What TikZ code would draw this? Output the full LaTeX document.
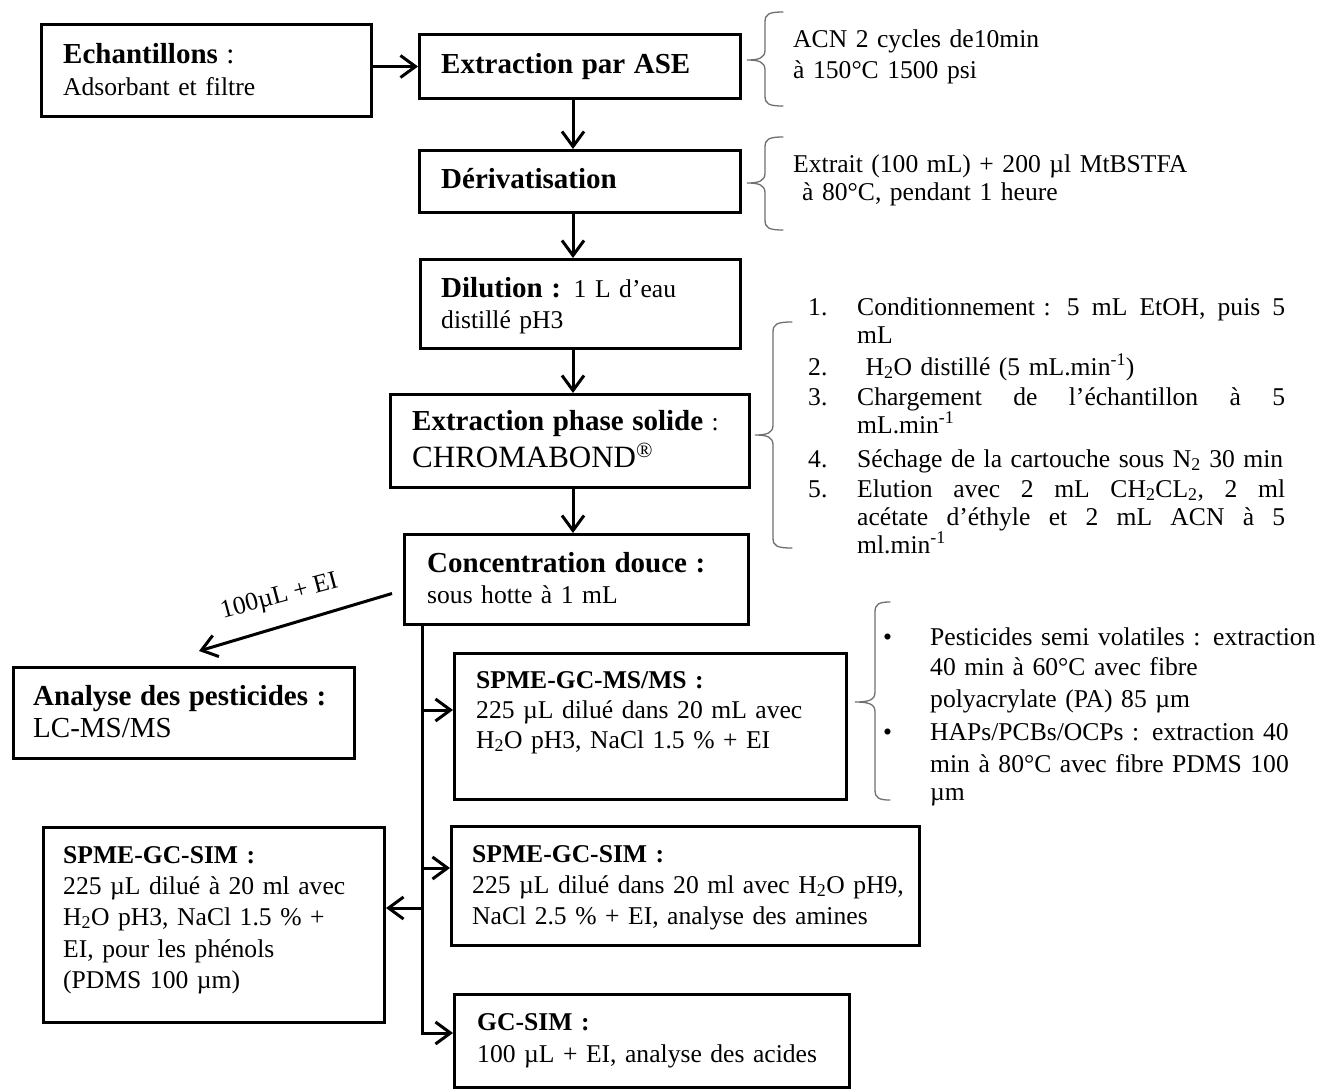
\documentclass[tikz,border=0pt]{standalone}
\usepackage{fontspec}
\setmainfont{Liberation Serif}
\usetikzlibrary{arrows.meta}
\definecolor{bracegray}{HTML}{707070}
\newcommand{\fRg}{\fontsize{25.6}{31}\selectfont}
\newcommand{\fBg}{\fontsize{29}{31}\selectfont\bfseries}
\newcommand{\numitem}[2]{\makebox[49pt][l]{#1}#2}
\newcommand{\bulitem}[1]{\makebox[47pt][l]{\textbullet}#1}
\newcommand{\jline}[1]{\hbox to 428pt{#1}}
\newcommand{\mybrace}[6]{%
  \draw[brc] (#3,#4) .. controls (#2+4,#4) and (#2,#4+2) .. (#2,#4+10)
    -- (#2,#5-10) .. controls (#2,#5-2) and (#2-6,#5) .. (#1,#5)
    .. controls (#2-6,#5) and (#2,#5+2) .. (#2,#5+10)
    -- (#2,#6-10) .. controls (#2,#6-2) and (#2+4,#6) .. (#3,#6);}
\begin{document}
\begin{tikzpicture}[x=1pt,y=-1pt,
  box/.style={draw, line width=3pt, inner sep=0pt, anchor=north west},
  txt/.style={anchor=base west, inner sep=0pt, text width=#1, align=left, font=\fRg},
  arr/.style={line width=3pt, -{Straight Barb[length=15pt,width=22pt]}},
  brc/.style={draw=bracegray, line width=1.3pt, line cap=round}]
\useasboundingbox[fill=white] (0,0) rectangle (1322,1088);

% boxes
\node[box, minimum width=330pt, minimum height=92pt] (ech) at (40,23) {};
\node[box, minimum width=321pt, minimum height=64pt] (ase) at (418,33) {};
\node[box, minimum width=321pt, minimum height=62pt] (der) at (418,149) {};
\node[box, minimum width=320pt, minimum height=89pt] (dil) at (419,258) {};
\node[box, minimum width=359pt, minimum height=93pt] (eps) at (389,393) {};
\node[box, minimum width=344pt, minimum height=90pt] (con) at (403,533) {};
\node[box, minimum width=341pt, minimum height=91pt] (ana) at (12,666) {};
\node[box, minimum width=392pt, minimum height=146pt] (spmeMS) at (453,652) {};
\node[box, minimum width=341pt, minimum height=195pt] (simL) at (42,826) {};
\node[box, minimum width=468pt, minimum height=119pt] (simR) at (450,825) {};
\node[box, minimum width=395pt, minimum height=93pt] (gc) at (453,993) {};

% box texts
\node[txt=300pt] (echT) at (63,63) {{\fBg Echantillons\mdseries\ :}\\[1pt]Adsorbant et filtre};
\node[txt=300pt] (aseT) at (441,73) {\fBg Extraction par ASE};
\node[txt=300pt] (derT) at (441,188) {\fBg Dérivatisation};
\node[txt=300pt] (dilT) at (441,297) {{\fBg Dilution :} 1 L d’eau\\distillé pH3};
\node[txt=340pt] (epsT) at (412,430) {{\fBg Extraction phase solide} :\\[6pt]{\fontsize{31}{31}\selectfont CHROMABOND\textsuperscript{®}}};
\node[txt=320pt] (conT) at (427,572) {{\fBg Concentration douce :}\\sous hotte à 1 mL};
\node[txt=320pt] (anaT) at (33,705) {{\fBg Analyse des pesticides :}\\[1pt]{\fontsize{29}{31}\selectfont LC-MS/MS}};
\node[txt=360pt] (spmeMST) at (476,688) {{\bfseries SPME-GC-MS/MS :}\\[-1pt]225 µL dilué dans 20 mL avec\\[-1pt]H\textsubscript{2}O pH3, NaCl 1.5 \% + EI};
\node[txt=520pt] (simRT) at (472,862) {{\bfseries SPME-GC-SIM :}\\225 µL dilué dans 20 ml avec H\textsubscript{2}O pH9,\\NaCl 2.5 \% + EI, analyse des amines};
\node[txt=320pt] (simLT) at (63,863) {{\bfseries SPME-GC-SIM :}\\225 µL dilué à 20 ml avec\\H\textsubscript{2}O pH3, NaCl 1.5 \% +\\[1pt]EI, pour les phénols\\(PDMS 100 µm)};
\node[txt=360pt] (gcT) at (477,1030) {{\bfseries GC-SIM :}\\[1pt]100 µL + EI, analyse des acides};

% brace texts
\node[txt=480pt] (b1T) at (793,47) {ACN 2 cycles de10min\\à 150°C 1500 psi};
\node[txt=480pt] (b2T) at (793,172) {Extrait (100 mL) + 200 µl MtBSTFA\\[-3pt]\hspace*{9pt}à 80°C, pendant 1 heure};
\node[txt=560pt] (b3T) at (808,315) {%
\numitem{1.}{\jline{Conditionnement : \hfill 5 \hfill mL \hfill EtOH, \hfill puis \hfill 5}}\\[-3pt]
\hspace*{49pt}mL\\[1pt]
\numitem{2.}{\ H\textsubscript{2}O distillé (5 mL.min\textsuperscript{-1})}\\[-1pt]
\numitem{3.}{\jline{Chargement \hfill de \hfill l’échantillon \hfill à \hfill 5}}\\[-3pt]
\hspace*{49pt}mL.min\textsuperscript{-1}\\[3pt]
\numitem{4.}{Séchage de la cartouche sous N\textsubscript{2} 30 min}\\[-1pt]
\numitem{5.}{\jline{Elution \hfill avec \hfill 2 \hfill mL \hfill CH\textsubscript{2}CL\textsubscript{2}, \hfill 2 \hfill ml}}\\[-3pt]
\hspace*{49pt}\jline{acétate \hfill d’éthyle \hfill et \hfill 2 \hfill mL \hfill ACN \hfill à \hfill 5}\\[-3pt]
\hspace*{49pt}ml.min\textsuperscript{-1}};
\node[txt=480pt] (b4T) at (883,645) {%
\bulitem{Pesticides semi volatiles : extraction}\\[-1pt]
\hspace*{47pt}40 min à 60°C avec fibre\\[1pt]
\hspace*{47pt}polyacrylate (PA) 85 µm\\[2pt]
\bulitem{HAPs/PCBs/OCPs : extraction 40}\\[1pt]
\hspace*{47pt}min à 80°C avec fibre PDMS 100\\[-3pt]
\hspace*{47pt}µm};

% braces
\mybrace{747}{765}{783}{12}{60}{106}
\mybrace{747}{765}{783}{137}{183}{230}
\mybrace{755}{773}{792}{322}{435}{548}
\mybrace{855}{875}{890}{602}{702}{800}

% main chain
\coordinate (vx) at (573,0);
\draw[arr] (ase.west -| ech.east) -- (ase.west);
\draw[arr] (ase.south -| vx) -- (der.north -| vx);
\draw[arr] (der.south -| vx) -- (dil.north -| vx);
\draw[arr] (dil.south -| vx) -- (eps.north -| vx);
\draw[arr] (eps.south -| vx) -- (con.north -| vx);

% diagonal to LC-MS/MS
\coordinate (d1) at ([shift={(-11,14)}]con.west);
\coordinate (d2) at ([shift={(15,-15)}]ana.north);
\draw[arr] (d1) -- (d2);
\node[anchor=base, inner sep=0pt, rotate=15, font=\fRg] (lab) at (281,603) {100µL + EI};

% trunk and branches
\coordinate (b1) at (422,710);
\coordinate (b2) at (422,868);
\coordinate (b3) at (422,908);
\coordinate (b4) at (422,1033);
\draw[arr] (con.south -| b4) -- (b4) -- (b4 -| gc.west);
\draw[arr] (b1) -- (b1 -| spmeMS.west);
\draw[arr] (b2) -- (b2 -| simR.west);
\draw[arr] (b3) -- (b3 -| simL.east);
\end{tikzpicture}
\end{document}
